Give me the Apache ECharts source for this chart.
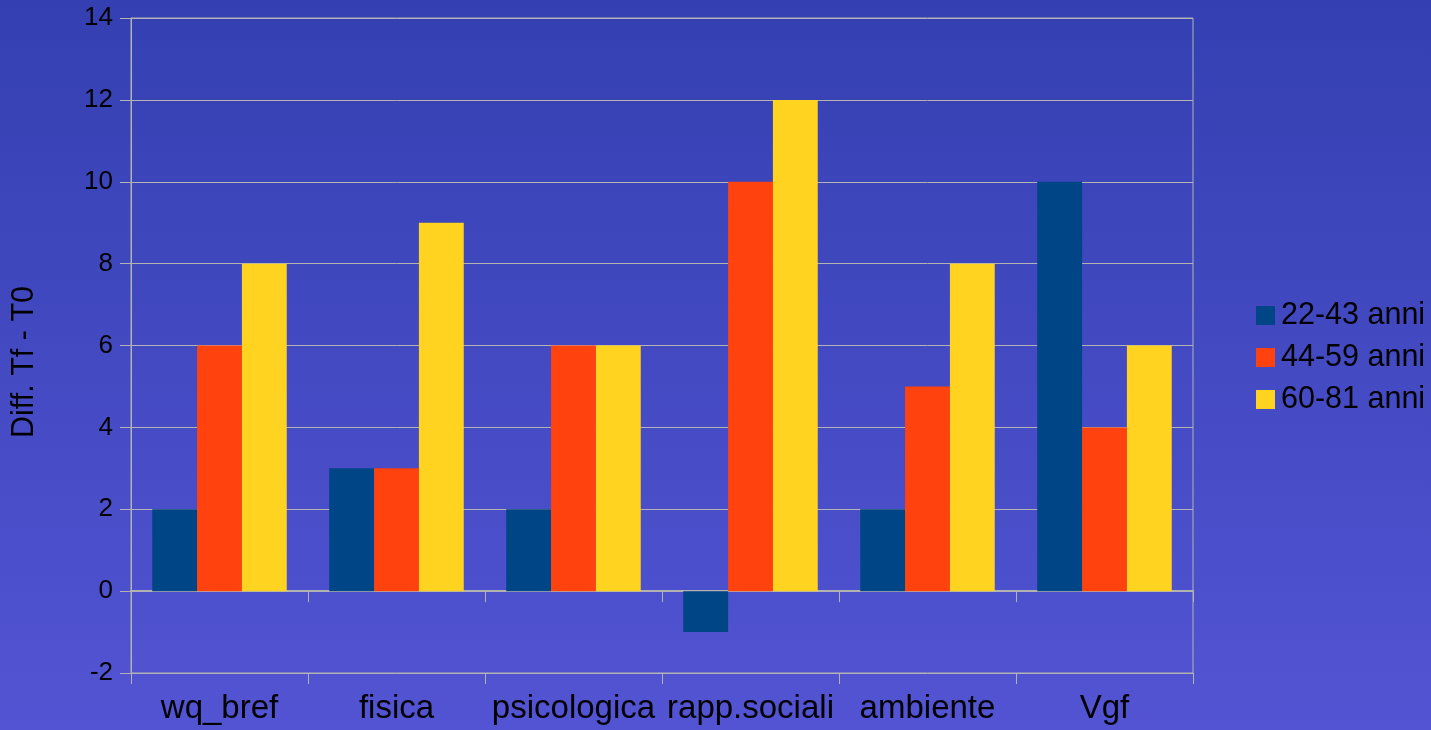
<!DOCTYPE html>
<html>
<head>
<meta charset="utf-8">
<script src="https://cdn.jsdelivr.net/npm/echarts@6/dist/echarts.min.js"></script>
<style>
  html, body { margin: 0; padding: 0; width: 1431px; height: 730px; overflow: hidden; }
  #chart { width: 1431px; height: 730px; }
</style>
</head>
<body>
<div id="chart"></div>
<script>
// Categories and per-age-group differences (Tf - T0)
const categories = ['wq_bref', 'fisica', 'psicologica', 'rapp.sociali', 'ambiente', 'Vgf'];
const seriesNames = ['22-43 anni', '44-59 anni', '60-81 anni'];
const group1 = [2, 3, 2, -1, 2, 10];
const group2 = [6, 3, 6, 10, 5, 4];
const group3 = [8, 9, 6, 12, 8, 6];
const yTitle = 'Diff. Tf - T0';

const palette = ['#004586', '#ff420e', '#ffd320'];
const gray = '#b3b3b3';
const font = '"Liberation Sans", Arial, sans-serif';

const chart = echarts.init(document.getElementById('chart'), null, { renderer: 'canvas' });

chart.setOption({
  animation: false,
  backgroundColor: new echarts.graphic.LinearGradient(0, 0, 0, 1, [
    { offset: 0, color: '#3440b1' },
    { offset: 1, color: '#5354d3' }
  ]),
  textStyle: { fontFamily: font, color: '#000' },
  grid: {
    left: 131, right: 238, top: 18, bottom: 57,
    show: true, borderColor: gray, borderWidth: 1,
    containLabel: false
  },
  legend: {
    orient: 'vertical',
    left: 1251,
    top: 295,
    icon: 'rect',
    itemWidth: 19,
    itemHeight: 19,
    itemGap: 11,
    selectedMode: false,
    data: seriesNames,
    textStyle: { fontSize: 30.5, lineHeight: 30, color: '#000', fontFamily: font, padding: [0, 0, 0, 1] }
  },
  graphic: [{
    type: 'text',
    x: 25, y: 362,
    rotation: Math.PI / 2,
    style: {
      text: yTitle,
      font: '30.5px ' + font,
      fill: '#000',
      textAlign: 'center',
      textVerticalAlign: 'middle'
    }
  }],
  xAxis: [
    {
      // baseline at zero with downward ticks
      type: 'category',
      data: categories,
      position: 'top',
      axisLine: { show: true, onZero: true, lineStyle: { color: gray, width: 2 } },
      axisTick: { show: true, inside: true, length: 11, lineStyle: { color: gray } },
      axisLabel: { show: false },
      splitLine: { show: false }
    },
    {
      // category labels along the bottom edge
      type: 'category',
      data: categories,
      position: 'bottom',
      axisLine: { show: false, onZero: false },
      axisTick: { show: true, length: 11, lineStyle: { color: gray } },
      axisLabel: { fontSize: 33, color: '#000', fontFamily: font, margin: 19, interval: 0 },
      splitLine: { show: false }
    }
  ],
  yAxis: {
    type: 'value',
    min: -2, max: 14, interval: 2,
    axisLine: { show: true, onZero: false, lineStyle: { color: gray } },
    axisTick: { show: true, length: 11, lineStyle: { color: gray } },
    axisLabel: { fontSize: 26, color: '#000', fontFamily: font, margin: 18 },
    splitLine: { show: true, lineStyle: { color: gray, width: 1 } }
  },
  series: [group1, group2, group3].map((vals, i) => ({
    name: seriesNames[i],
    type: 'bar',
    xAxisIndex: 1,
    data: vals,
    barGap: '0%',
    barCategoryGap: '24%',
    itemStyle: { color: palette[i] }
  }))
});
</script>
</body>
</html>
